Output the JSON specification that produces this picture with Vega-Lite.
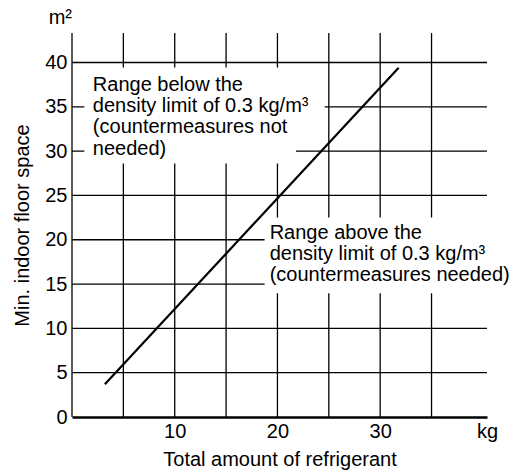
{
  "$schema": "https://vega.github.io/schema/vega-lite/v6.json",
  "autosize": {"type": "none"},
  "padding": {"left": 72, "top": 33, "right": 27, "bottom": 55},
  "width": 415,
  "height": 384,
  "config": {
    "view": {"stroke": null},
    "font": "Liberation Sans",
    "text": {"font": "Liberation Sans", "color": "#000"},
    "axis": {
      "grid": false, "ticks": false,
      "labelFont": "Liberation Sans", "labelFontSize": 20, "labelColor": "#000",
      "labelFlush": false, "labelOverlap": false, "labelBound": false,
      "titleFont": "Liberation Sans", "titleFontSize": 20, "titleFontWeight": "normal", "titleColor": "#000"
    },
    "axisX": {"domain": true, "domainColor": "#000", "domainWidth": 2.5, "labelPadding": 4, "titlePadding": 8},
    "axisY": {"domain": false, "labelPadding": 5, "titlePadding": 12}
  },
  "layer": [
    {
      "data": {"values": [{"x": 0}, {"x": 5}, {"x": 10}, {"x": 15}, {"x": 20}, {"x": 25}, {"x": 30}, {"x": 35}]},
      "mark": {"type": "rule", "color": "#000", "strokeWidth": 1.3},
      "encoding": {
        "x": {"field": "x", "type": "quantitative", "scale": {"domain": [0, 40.4], "nice": false, "zero": false}}
      }
    },
    {
      "data": {"values": [{"y": 5}, {"y": 10}, {"y": 15}, {"y": 20}, {"y": 25}, {"y": 30}, {"y": 35}, {"y": 40}]},
      "mark": {"type": "rule", "color": "#000", "strokeWidth": 1.3},
      "encoding": {
        "y": {"field": "y", "type": "quantitative", "scale": {"domain": [0, 43.33], "nice": false, "zero": false}}
      }
    },
    {
      "data": {"values": [
        {"x": 1.2, "x2": 24.6, "y": 32.5, "y2": 39.45},
        {"x": 1.2, "x2": 21.8, "y": 28.6, "y2": 32.5},
        {"x": 18.75, "x2": 40.4, "y": 13.96, "y2": 22.5}
      ]},
      "mark": {"type": "rect", "color": "#fff", "strokeWidth": 0},
      "encoding": {
        "x": {"field": "x", "type": "quantitative"},
        "x2": {"field": "x2"},
        "y": {"field": "y", "type": "quantitative"},
        "y2": {"field": "y2"}
      }
    },
    {
      "data": {"values": [{"x": 3.2, "y": 3.7}, {"x": 31.8, "y": 39.4}]},
      "mark": {"type": "line", "color": "#000", "strokeWidth": 2.2},
      "encoding": {
        "x": {
          "field": "x", "type": "quantitative",
          "axis": {
            "title": "Total amount of refrigerant",
            "values": [10, 20, 30, 40.4],
            "labelExpr": "datum.value > 35 ? 'kg' : datum.label"
          }
        },
        "y": {
          "field": "y", "type": "quantitative",
          "axis": {
            "title": "Min. indoor floor space",
            "values": [0, 5, 10, 15, 20, 25, 30, 35, 40]
          }
        }
      }
    },
    {
      "data": {"values": [
        {"x": 2.03, "y": 36.8, "t": "Range below the\ndensity limit of 0.3 kg/m³\n(countermeasures not\nneeded)"},
        {"x": 19.24, "y": 20.13, "t": "Range above the\ndensity limit of 0.3 kg/m³\n(countermeasures needed)"}
      ]},
      "mark": {"type": "text", "align": "left", "baseline": "alphabetic", "fontSize": 20, "lineHeight": 21.3, "lineBreak": "\n", "color": "#000"},
      "encoding": {
        "x": {"field": "x", "type": "quantitative"},
        "y": {"field": "y", "type": "quantitative"},
        "text": {"field": "t"}
      }
    },
    {
      "data": {"values": [{"x": 0, "y": 44.4, "t": "m²"}]},
      "mark": {"type": "text", "align": "right", "baseline": "alphabetic", "fontSize": 20, "color": "#000"},
      "encoding": {
        "x": {"field": "x", "type": "quantitative"},
        "y": {"field": "y", "type": "quantitative"},
        "text": {"field": "t"}
      }
    }
  ]
}
